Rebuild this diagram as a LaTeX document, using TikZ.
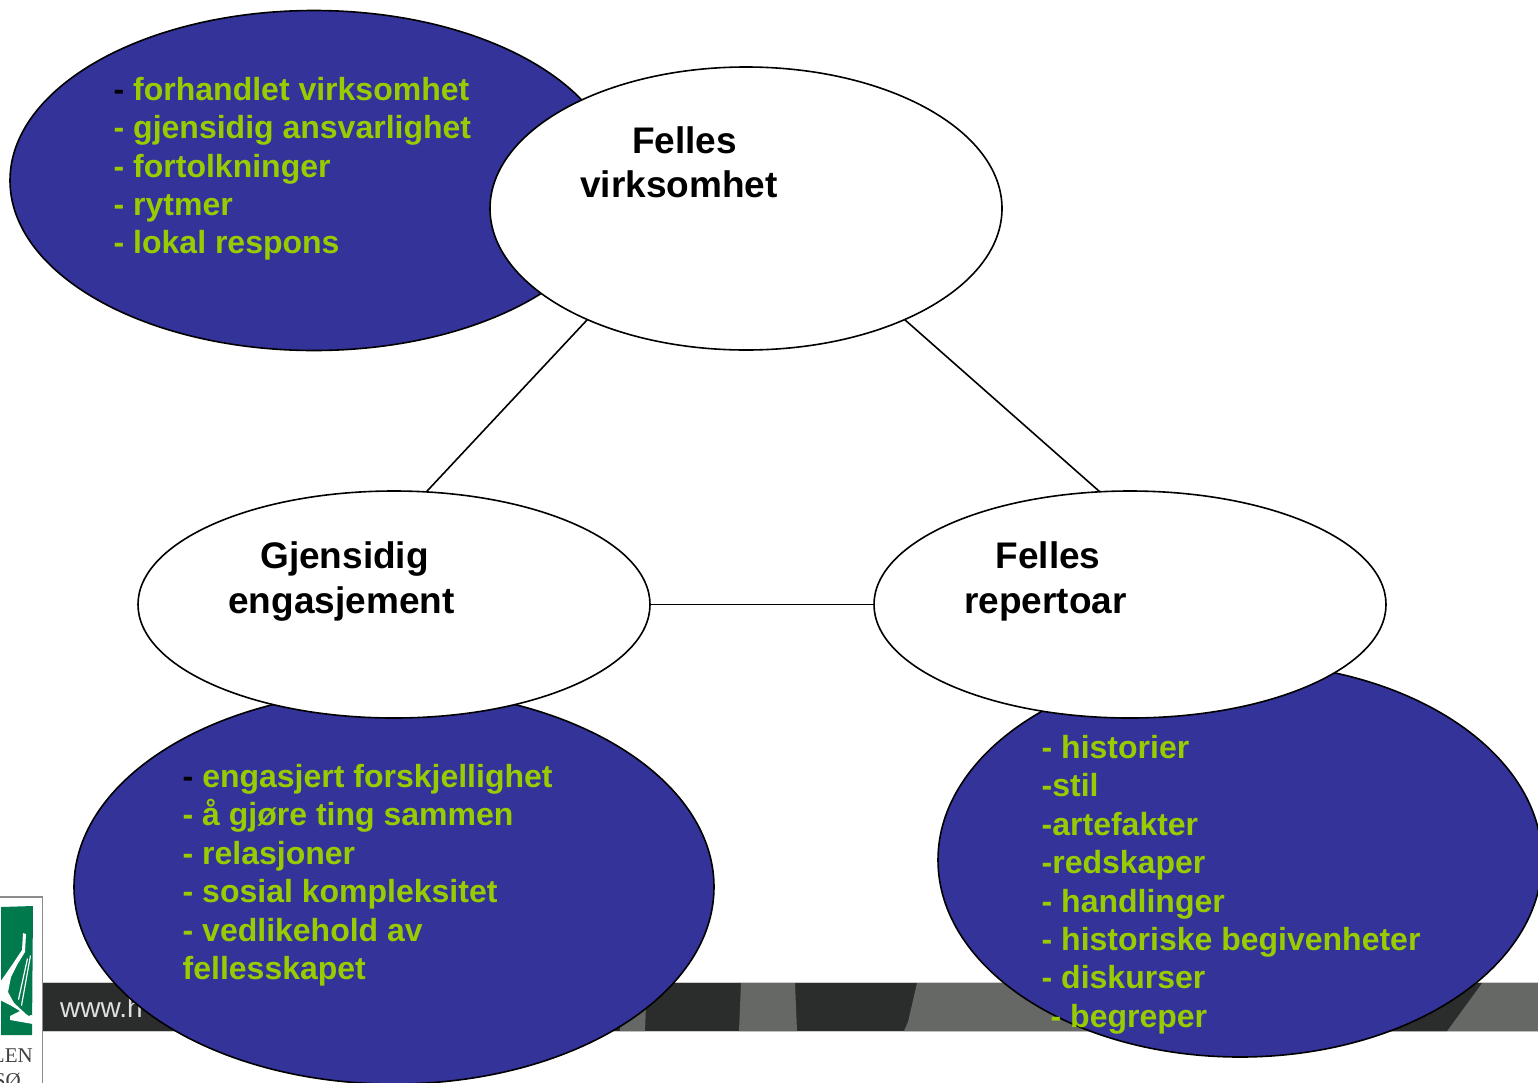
\documentclass[tikz,border=0pt]{standalone}
\usepackage{fontspec}
\setmainfont{Liberation Sans}
\newfontfamily\logoserif{Liberation Serif}
\usetikzlibrary{shapes.geometric}
\definecolor{navyfill}{HTML}{333399}
\definecolor{limetext}{HTML}{99CC00}
\definecolor{bardark}{HTML}{2B2D2C}
\definecolor{bargrey}{HTML}{666866}
\definecolor{logogreen}{HTML}{007A4D}
\tikzset{
  oval/.style={ellipse,draw=black,line width=1.6pt,inner sep=0pt,outer sep=0pt},
  blueoval/.style={oval,fill=navyfill},
  whiteoval/.style={oval,fill=white},
  listtext/.style={anchor=north west,align=left,inner sep=0pt,text=limetext,
    font=\fontsize{32}{38.4}\selectfont\bfseries},
  titletext/.style={anchor=base,inner sep=0pt,text=black,
    font=\fontsize{37}{44}\selectfont\bfseries},
  link/.style={line width=1.6pt,draw=black}
}
\begin{document}
\begin{tikzpicture}[x=1pt,y=-1pt]
\useasboundingbox (0,0) rectangle (1538,1082);
\fill[white] (0,0) rectangle (1538,1082);
% footer bar
\fill[bardark] (42,983) rectangle (1538,1031);
\draw[line width=1pt,black!20] (42,982.6) -- (1538,982.6) (42,1031.4) -- (1538,1031.4);
\fill[bargrey] (620,1031) -- (645,1031) -- (646,1005) -- (620,1005) -- cycle;
\fill[bargrey] (741,983) -- (795,983) -- (797,1031) -- (739,1031) -- cycle;
\fill[bargrey] (917,983) -- (1538,983) -- (1538,1031) -- (904,1031) -- (908,1022) -- cycle;
\fill[bardark] (1330,983) -- (1482,983) -- (1447,1031) -- (1330,1031) -- cycle;
\node[anchor=base west,inner sep=0pt,text=white!88!black,font=\fontsize{28}{30}\selectfont] (site) at (60,1017) {www.h};
% logo
\begin{scope}
\clip (0,890) rectangle (44,1082);
\draw[line width=1.2pt,black!45] (-5,897) -- (42.4,897) -- (42.4,1090);
\fill[logogreen] (1,907) -- (33,906) -- (32,1035) -- (1,1035) -- cycle;
\fill[white] (23,933) -- (22,950) -- (12,965) -- (3,978) -- (0,982) -- (0,1000) -- (10,1005) -- (20,1011) -- (10,1016) -- (10,1020) -- (33,1024) -- (33,1019) -- (26,1014) -- (14,1003) -- (8,992) -- (11,977) -- (17,965) -- (25,952) -- (26,934) -- cycle;
\fill[white] (30,955) -- (31,956) -- (22,1006) -- (21,1005) -- cycle;
\fill[white] (27,958) -- (28,959) -- (19,1000) -- (18,999) -- cycle;
\fill[white] (31,1017) circle (2);
\node[anchor=base east,inner sep=0pt,text=black!75,font=\fontsize{21}{24}\selectfont\logoserif] (logoa) at (33,1062) {LEN};
\node[anchor=base east,inner sep=0pt,text=black!75,font=\fontsize{21}{24}\selectfont\logoserif] (logob) at (21,1087) {SØ};
\end{scope}
% blue ovals
\node[blueoval,minimum width=608pt,minimum height=340pt] (bTL) at (314,180.5) {};
\node[blueoval,minimum width=640pt,minimum height=394pt] (bBL) at (394,887) {};
\node[blueoval,minimum width=604pt,minimum height=394pt] (bBR) at (1240,860) {};
% white ovals
\node[whiteoval,minimum width=512pt,minimum height=283pt] (fv) at (746,208.5) {};
\node[whiteoval,minimum width=512pt,minimum height=227pt] (ge) at (394,604.5) {};
\node[whiteoval,minimum width=512pt,minimum height=227pt] (fr) at (1130,604.5) {};
\draw[link] (fv.215) -- (ge.74);
\draw[link] (fv.325) -- (fr.105);
\draw[link] (ge.east) -- (fr.west);
% titles
\node[titletext] (t1) at (684.5,153) {Felles};
\node[titletext] (t2) at (679,197) {virksomhet};
\node[titletext] (t3) at (344.5,568) {Gjensidig};
\node[titletext] (t4) at (341.5,613) {engasjement};
\node[titletext] (t5) at (1048,568) {Felles};
\node[titletext] (t6) at (1045.5,613) {repertoar};
% lists
\node[listtext] (l1) at (113.5,77) {\textcolor{black}{-} forhandlet virksomhet\\- gjensidig ansvarlighet\\- fortolkninger\\- rytmer\\- lokal respons};
\node[listtext] (l2) at (182.5,764) {\textcolor{black}{-} engasjert forskjellighet\\- å gjøre ting sammen\\- relasjoner\\- sosial kompleksitet\\- vedlikehold av\\fellesskapet};
\node[listtext] (l3) at (1041.5,735) {- historier\\-stil\\-artefakter\\-redskaper\\- handlinger\\- historiske begivenheter\\- diskurser\\\hspace*{9pt}- begreper};
\end{tikzpicture}
\end{document}
